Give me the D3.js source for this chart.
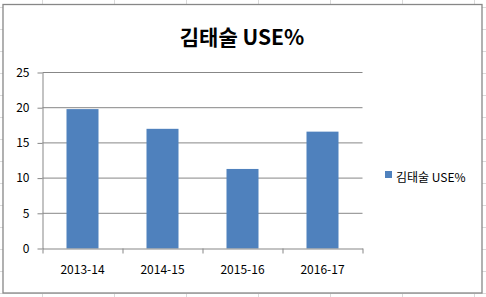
<!DOCTYPE html>
<html>
<head>
<meta charset="utf-8">
<script src="https://cdn.jsdelivr.net/npm/d3@7"></script>
<style>
  body { margin: 0; background: #fff; }
  svg { display: block; }
  text { font-family: "Noto Sans CJK KR", "Noto Sans", sans-serif; }
</style>
</head>
<body>
<svg></svg>
<script>
let title = "김태술 USE%"
let seriesName = "김태술 USE%"
let seasons = ["2013-14", "2014-15", "2015-16", "2016-17"]
let usePct = [19.8, 17.0, 11.3, 16.6]
let yTicks = [0, 5, 10, 15, 20, 25]

let width = 486
let height = 297
let plotLeft = 42.5
let plotRight = 362.5
let plotTop = 72.5
let plotBottom = 248.5

let svg = d3.select("svg").attr("width", width).attr("height", height)

// spreadsheet cells behind the chart
let sheet = svg.append("g").attr("stroke", "#dadada").attr("stroke-width", 1)
for (let x = 42.5; x < width; x += 72) {
    sheet.append("line").attr("x1", x).attr("x2", x).attr("y1", 0).attr("y2", height)
}
for (let y = 7.5; y < height; y += 22) {
    sheet.append("line").attr("x1", 0).attr("x2", width).attr("y1", y).attr("y2", y)
}

// chart area
svg.append("rect")
    .attr("x", 3).attr("y", 4.5)
    .attr("width", 479).attr("height", 288.5)
    .attr("fill", "#fff")
    .attr("stroke", "#878787")
    .attr("stroke-width", 1.3)

let xScale = d3.scaleBand().domain(seasons).range([plotLeft, plotRight])
    .paddingInner(0.6).paddingOuter(0.3)
let yScale = d3.scaleLinear().domain([0, 25]).range([plotBottom, plotTop])

// gridlines
svg.append("g").selectAll("line")
    .data(yTicks.filter(d => d > 0))
    .enter().append("line")
    .attr("x1", plotLeft).attr("x2", plotRight)
    .attr("y1", d => yScale(d)).attr("y2", d => yScale(d))
    .attr("stroke", "#878787").attr("stroke-width", 1)

// bars
svg.append("g").selectAll("rect")
    .data(seasons)
    .enter().append("rect")
    .attr("x", d => xScale(d))
    .attr("width", xScale.bandwidth())
    .attr("y", (d, i) => yScale(usePct[i]))
    .attr("height", (d, i) => plotBottom - yScale(usePct[i]))
    .attr("fill", "#4f81bd")

// y axis
let yAxis = d3.axisLeft(yScale).tickValues(yTicks).tickSize(5).tickPadding(8).tickSizeOuter(0)
let yg = svg.append("g").attr("transform", "translate(" + plotLeft + ",0)").call(yAxis)
yg.selectAll("line, path").attr("stroke", "#878787")
yg.selectAll("text").attr("font-size", 12).attr("fill", "#000")
    .attr("font-family", "'Noto Sans CJK KR', sans-serif")

// x axis: ticks at category boundaries, labels at band centres
let edgeScale = d3.scaleLinear().domain([0, seasons.length]).range([plotLeft, plotRight])
let xAxis = d3.axisBottom(edgeScale).ticks(seasons.length).tickSize(5).tickSizeOuter(0).tickFormat("")
let xg = svg.append("g").attr("transform", "translate(0," + plotBottom + ")").call(xAxis)
xg.selectAll("line, path").attr("stroke", "#878787")

svg.append("g").selectAll("text")
    .data(seasons)
    .enter().append("text")
    .attr("x", d => xScale(d) + xScale.bandwidth() / 2)
    .attr("y", 274)
    .attr("text-anchor", "middle")
    .attr("font-size", 12)
    .text(d => d)

// title
svg.append("text")
    .attr("x", 242).attr("y", 45)
    .attr("text-anchor", "middle")
    .attr("font-size", 21)
    .attr("font-weight", "bold")
    .text(title)

// legend
svg.append("rect")
    .attr("x", 385).attr("y", 171)
    .attr("width", 7).attr("height", 7)
    .attr("fill", "#4f81bd")
svg.append("text")
    .attr("x", 396).attr("y", 182)
    .attr("font-size", 12)
    .text(seriesName)
</script>
</body>
</html>
